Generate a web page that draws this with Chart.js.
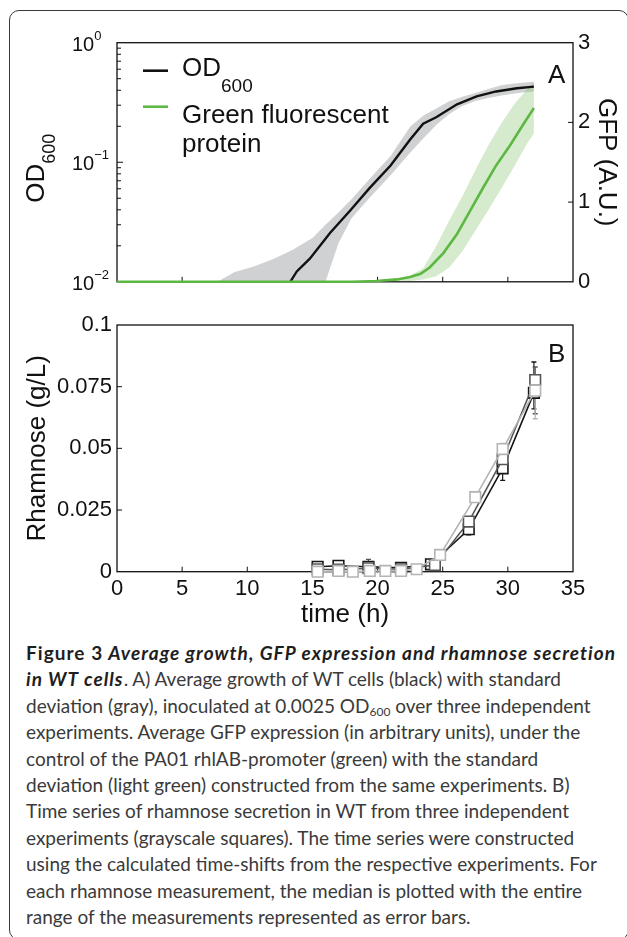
<!DOCTYPE html>
<html lang="en">
<head>
<meta charset="UTF-8">
<title>Figure 3</title>
<script src="https://cdn.jsdelivr.net/npm/chart.js@4.4.0/dist/chart.umd.min.js"></script>
<style>
  body {
    margin: 0;
    padding: 0;
    background: #fff;
    width: 627px;
    height: 937px;
    overflow: hidden;
    position: relative;
  }
  .frame {
    position: absolute;
    left: 9px;
    top: 10px;
    width: 620px;
    height: 930px;
    border: 1.5px solid #3a3a3a;
    border-radius: 10px;
    box-sizing: border-box;
  }
  #chartA { position: absolute; left: 0; top: 0; }
  #chartB { position: absolute; left: 0; top: 300px; }
  .caption {
    position: absolute;
    left: 26px;
    top: 640px;
    font-family: Lato, 'Open Sans', sans-serif;
    font-size: 19px;
    line-height: 26.4px;
    color: #3a3a3a;
    white-space: nowrap;
  }
  .caption b { color: #1e1e1e; letter-spacing: 1.05px; }
  .caption sub { font-size: 12px; vertical-align: -3px; line-height: 0; }
</style>
</head>
<body>
<div class="frame"></div>
<canvas id="chartA" width="627" height="300"></canvas>
<canvas id="chartB" width="627" height="340"></canvas>

<div class="caption">
  <div><b>Figure 3</b> <b><i>Average growth, GFP expression and rhamnose secretion</i></b></div>
  <div><b><i>in WT cells</i></b>. A) Average growth of WT cells (black) with standard</div>
  <div>deviation (gray), inoculated at 0.0025 OD<sub>600</sub> over three independent</div>
  <div>experiments. Average GFP expression (in arbitrary units), under the</div>
  <div>control of the PA01 rhlAB-promoter (green) with the standard</div>
  <div>deviation (light green) constructed from the same experiments. B)</div>
  <div>Time series of rhamnose secretion in WT from three independent</div>
  <div>experiments (grayscale squares). The time series were constructed</div>
  <div>using the calculated time-shifts from the respective experiments. For</div>
  <div>each rhamnose measurement, the median is plotted with the entire</div>
  <div>range of the measurements represented as error bars.</div>
</div>

<script>
// ---- axes ----
const timeTicks = [0, 5, 10, 15, 20, 25, 30, 35];
const odTicks = [0.01, 0.1, 1];
const gfpTicks = [0, 1, 2, 3];
const rhaTicks = [0, 0.025, 0.05, 0.075, 0.1];

// ---- panel A: OD600 mean and std band (log axis) ----
const odTime = [13.3, 13.8, 14.8, 16.35, 17.9, 19.4, 21.0, 22.5, 23.5, 24.5, 26.1, 27.6, 29.1, 30.7, 32.0];
const odMean = [0.0100, 0.0122, 0.0156, 0.0256, 0.0395, 0.061, 0.094, 0.155, 0.21, 0.238, 0.305, 0.356, 0.391, 0.416, 0.429];
const odBandTime = [7.7, 9, 10.5, 12, 13.5, 15, 16, 17, 18, 19.5, 21, 22.5, 23.5, 24.5, 25.5, 26.5, 27.5, 28.5, 29.5, 30.5, 31.5, 32.0];
const odUpper = [0.0100, 0.0120, 0.0134, 0.0155, 0.0185, 0.0232, 0.030, 0.038, 0.049, 0.075, 0.113, 0.198, 0.245, 0.282, 0.323, 0.353, 0.38, 0.41, 0.44, 0.455, 0.466, 0.471];
const odLower = [0.002, 0.002, 0.002, 0.002, 0.002, 0.002, 0.0100, 0.021, 0.034, 0.052, 0.078, 0.12, 0.158, 0.205, 0.253, 0.295, 0.325, 0.345, 0.362, 0.375, 0.386, 0.391];

// ---- panel A: GFP mean and std band (right axis) ----
const gfpTime = [0, 18, 19.9, 21.5, 22.5, 23.3, 24.0, 25.05, 26.1, 27.1, 28.1, 29.1, 30.2, 31.2, 32.0];
const gfpMean = [0, 0, 0.01, 0.03, 0.06, 0.1, 0.18, 0.36, 0.6, 0.89, 1.18, 1.46, 1.72, 1.98, 2.18];
const gfpBandTime = [21, 22.5, 23.5, 24.5, 25.5, 26.5, 27.5, 28.5, 29.5, 30.5, 31.5, 32];
const gfpUpper = [0.02, 0.08, 0.17, 0.45, 0.77, 1.07, 1.40, 1.71, 1.99, 2.23, 2.42, 2.51];
const gfpLower = [0, 0.01, 0.03, 0.07, 0.18, 0.38, 0.64, 0.90, 1.17, 1.45, 1.74, 1.86];

// ---- panel B: rhamnose, three experiments (median + range) ----
const rhaTime1 = [15.4, 17.0, 19.3, 21.8, 24.1, 27.0, 29.6, 32.0];
const rha1 = [0.002, 0.0024, 0.002, 0.0016, 0.003, 0.0172, 0.0419, 0.0725];
const rhaLow1 = [0.001, 0.0015, 0.001, 0.001, 0.0015, 0.015, 0.037, 0.066];
const rhaHigh1 = [0.003, 0.003, 0.0035, 0.0025, 0.004, 0.019, 0.044, 0.085];

const rhaTime2 = [15.4, 17.0, 19.3, 21.8, 24.4, 27.0, 29.6, 32.1];
const rha2 = [0.001, 0.0008, 0.0014, 0.001, 0.0027, 0.0203, 0.0456, 0.0777];
const rhaLow2 = [0.0005, 0.0005, 0.0005, 0.0005, 0.002, 0.018, 0.043, 0.064];
const rhaHigh2 = [0.0015, 0.0012, 0.005, 0.0015, 0.0035, 0.022, 0.048, 0.083];

const rhaTime3 = [15.4, 17.0, 18.1, 19.4, 20.6, 21.8, 23.0, 24.8, 27.5, 29.6, 32.1];
const rha3 = [0, 0.0003, 0, 0.0003, 0.0003, 0.0003, 0.001, 0.0068, 0.0302, 0.0497, 0.0734];
const rhaLow3 = [0, 0, 0, 0, 0, 0, 0.0005, 0.006, 0.029, 0.043, 0.062];
const rhaHigh3 = [0.0005, 0.0006, 0.0003, 0.0006, 0.0006, 0.0006, 0.0015, 0.0075, 0.031, 0.052, 0.076];

const FONT = "'Liberation Sans', Arial, Helvetica, sans-serif";
const pts = (xs, ys) => xs.map((x, i) => ({ x: x, y: ys[i] }));
const fixedTicks = (list) => (scale) => { scale.ticks = list.map(v => ({ value: v })); };

function line(ctx, x1, y1, x2, y2) {
    ctx.beginPath();
    ctx.moveTo(x1, y1);
    ctx.lineTo(x2, y2);
    ctx.stroke();
}

// box + inward tick marks (MATLAB style)
function drawBox(chart, yKey, y2Key) {
    const { ctx, chartArea: a, scales } = chart;
    ctx.save();
    ctx.strokeStyle = '#111';
    ctx.lineWidth = 1.3;
    ctx.strokeRect(a.left, a.top, a.right - a.left, a.bottom - a.top);
    ctx.lineWidth = 1;
    const x = scales.x;
    x.ticks.forEach(t => {
        if (t.value > x.min && t.value < x.max) {
            const px = x.getPixelForValue(t.value);
            line(ctx, px, a.bottom, px, a.bottom - 5);
        }
    });
    const y = scales[yKey];
    if (y.type === 'logarithmic') {
        for (let k = -2; k <= 0; k++) {
            for (let m = 1; m <= 9; m++) {
                const v = m * Math.pow(10, k);
                if (v <= y.min || v >= y.max) continue;
                const py = y.getPixelForValue(v);
                line(ctx, a.left, py, a.left + (m === 1 ? 6 : 4), py);
            }
        }
    } else {
        y.ticks.forEach(t => {
            if (t.value > y.min && t.value < y.max) {
                const py = y.getPixelForValue(t.value);
                line(ctx, a.left, py, a.left + 5, py);
            }
        });
    }
    if (y2Key) {
        const y2 = scales[y2Key];
        y2.ticks.forEach(t => {
            if (t.value > y2.min && t.value < y2.max) {
                const py = y2.getPixelForValue(t.value);
                line(ctx, a.right, py, a.right - 5, py);
            }
        });
    }
    ctx.restore();
}

const panelAPlugin = {
    id: 'panelA',
    beforeDatasetsDraw(chart) {
        drawBox(chart, 'y', 'y2');
    },
    afterDraw(chart) {
        const { ctx, chartArea: a, scales } = chart;
        ctx.save();
        ctx.fillStyle = '#111';
        // log tick labels 10^k
        odTicks.forEach(v => {
            const py = scales.y.getPixelForValue(v);
            const k = Math.round(Math.log10(v));
            ctx.font = '20px ' + FONT;
            ctx.textAlign = 'left';
            ctx.textBaseline = 'alphabetic';
            ctx.fillText('10', a.left - 45, py + 8);
            const w = ctx.measureText('10').width;
            ctx.font = '13px ' + FONT;
            ctx.fillText(k === 0 ? '0' : '\u2212' + Math.abs(k), a.left - 45 + w, py - 3);
        });
        // rotated OD600 title
        ctx.save();
        ctx.translate(44, (a.top + a.bottom) / 2 + 6);
        ctx.rotate(-Math.PI / 2);
        ctx.font = '26px ' + FONT;
        const wOD = ctx.measureText('OD').width;
        ctx.font = '18px ' + FONT;
        const wSub = ctx.measureText('600').width;
        const x0 = -(wOD + wSub) / 2;
        ctx.font = '26px ' + FONT;
        ctx.fillText('OD', x0, 0);
        ctx.font = '18px ' + FONT;
        ctx.fillText('600', x0 + wOD, 11);
        ctx.restore();
        // legend
        ctx.lineWidth = 2.6;
        ctx.strokeStyle = '#111';
        line(ctx, a.left + 26, a.top + 28, a.left + 51, a.top + 28);
        ctx.strokeStyle = '#5db843';
        line(ctx, a.left + 26, a.top + 64, a.left + 51, a.top + 64);
        ctx.font = '26px ' + FONT;
        ctx.fillText('OD', a.left + 65, a.top + 33);
        const w2 = ctx.measureText('OD').width;
        ctx.font = '19px ' + FONT;
        ctx.fillText('600', a.left + 65 + w2, a.top + 49);
        ctx.font = '26px ' + FONT;
        ctx.fillText('Green fluorescent', a.left + 65, a.top + 80);
        ctx.fillText('protein', a.left + 65, a.top + 109);
        // panel letter
        ctx.fillText('A', a.right - 25, a.top + 40);
        ctx.restore();
    }
};

const panelBPlugin = {
    id: 'panelB',
    beforeDatasetsDraw(chart) {
        drawBox(chart, 'y', null);
    },
    afterDraw(chart) {
        const { ctx, chartArea: a } = chart;
        ctx.save();
        ctx.fillStyle = '#111';
        ctx.font = '26px ' + FONT;
        ctx.textAlign = 'left';
        ctx.fillText('B', a.right - 25, a.top + 37);
        ctx.restore();
    }
};

const baseOptions = {
    responsive: false,
    animation: false,
    events: [],
    plugins: { legend: { display: false }, tooltip: { enabled: false } },
    elements: { line: { tension: 0 } }
};

// ---------- Panel A ----------
new Chart(document.getElementById('chartA'), {
    type: 'line',
    data: {
        datasets: [
            { data: pts(gfpTime, gfpMean), yAxisID: 'y2', borderColor: '#5db843', borderWidth: 2.6, pointRadius: 0,
              fill: false, clip: { left: 0, top: 0, right: 0, bottom: 3 } },
            { data: pts(odTime, odMean), yAxisID: 'y', borderColor: '#111', borderWidth: 2.4, pointRadius: 0, fill: false },
            { data: pts(gfpBandTime, gfpUpper), yAxisID: 'y2', borderWidth: 0, pointRadius: 0,
              backgroundColor: 'rgba(120,190,90,0.3)', fill: '+1' },
            { data: pts(gfpBandTime, gfpLower), yAxisID: 'y2', borderWidth: 0, pointRadius: 0, fill: false },
            { data: pts(odBandTime, odUpper), yAxisID: 'y', borderWidth: 0, pointRadius: 0,
              backgroundColor: 'rgb(208,209,211)', fill: '+1' },
            { data: pts(odBandTime, odLower), yAxisID: 'y', borderWidth: 0, pointRadius: 0, fill: false }
        ]
    },
    options: Object.assign({}, baseOptions, {
        layout: { padding: { top: 42.7, left: 0, right: 0, bottom: 0 } },
        scales: {
            x: {
                type: 'linear', min: 0, max: 35,
                afterBuildTicks: fixedTicks(timeTicks),
                afterFit: (s) => { s.height = 9.3; },
                ticks: { display: false },
                grid: { display: false, drawTicks: false },
                border: { display: false }
            },
            y: {
                type: 'logarithmic', position: 'left', min: 0.01, max: 1,
                afterBuildTicks: fixedTicks(odTicks),
                afterFit: (s) => { s.width = 117; },
                ticks: { display: false },
                grid: { display: false, drawTicks: false },
                border: { display: false }
            },
            y2: {
                type: 'linear', position: 'right', min: 0, max: 3,
                afterBuildTicks: fixedTicks(gfpTicks),
                afterFit: (s) => { s.width = 54; },
                ticks: { color: '#111', font: { family: FONT, size: 22 }, padding: 5 },
                grid: { display: false, drawTicks: false },
                border: { display: false },
                title: { display: true, text: 'GFP (A.U.)', color: '#111',
                         font: { family: FONT, size: 26 }, padding: { top: 5 } }
            }
        }
    }),
    plugins: [panelAPlugin]
});

// ---------- Panel B ----------
const rhaSeries = [
    { t: rhaTime3, y: rha3, lo: rhaLow3, hi: rhaHigh3, color: '#b4b4b4' },
    { t: rhaTime2, y: rha2, lo: rhaLow2, hi: rhaHigh2, color: '#555555' },
    { t: rhaTime1, y: rha1, lo: rhaLow1, hi: rhaHigh1, color: '#151515' }
];

const rhaDatasets = rhaSeries.map(s => ({
    data: pts(s.t, s.y),
    borderColor: s.color,
    borderWidth: 1.6,
    pointStyle: 'rect',
    pointRadius: 7.5,
    pointBorderWidth: 1.6,
    pointBorderColor: s.color,
    pointBackgroundColor: '#fff',
    fill: false,
    clip: 10
}));

const errDatasets = rhaSeries.map(s => ({
    data: s.t.flatMap((t, i) => [{ x: t, y: s.lo[i] }, { x: t, y: s.hi[i] }, { x: t, y: null }]),
    borderColor: s.color,
    borderWidth: 1.2,
    pointStyle: 'line',
    pointRadius: 2.5,
    pointBorderWidth: 1.4,
    pointBorderColor: s.color,
    spanGaps: false,
    fill: false,
    clip: 10
}));

new Chart(document.getElementById('chartB'), {
    type: 'line',
    data: { datasets: rhaDatasets.concat(errDatasets) },
    options: Object.assign({}, baseOptions, {
        layout: { padding: { top: 25, left: 0, right: 54, bottom: 0 } },
        scales: {
            x: {
                type: 'linear', min: 0, max: 35,
                afterBuildTicks: fixedTicks(timeTicks),
                afterFit: (s) => { s.height = 68.3; },
                ticks: { color: '#111', font: { family: FONT, size: 22 }, padding: 4 },
                grid: { display: false, drawTicks: false },
                border: { display: false },
                title: { display: true, text: 'time (h)', color: '#111',
                         font: { family: FONT, size: 26 }, padding: { bottom: 10 } }
            },
            y: {
                type: 'linear', position: 'left', min: 0, max: 0.1,
                afterBuildTicks: fixedTicks(rhaTicks),
                afterFit: (s) => { s.width = 117; },
                ticks: { color: '#111', font: { family: FONT, size: 22 }, padding: 5,
                         callback: (v) => String(+v.toFixed(3)) },
                grid: { display: false, drawTicks: false },
                border: { display: false },
                title: { display: true, text: 'Rhamnose (g/L)', color: '#111',
                         font: { family: FONT, size: 26 }, padding: { top: 22 } }
            }
        }
    }),
    plugins: [panelBPlugin]
});
</script>
</body>
</html>
